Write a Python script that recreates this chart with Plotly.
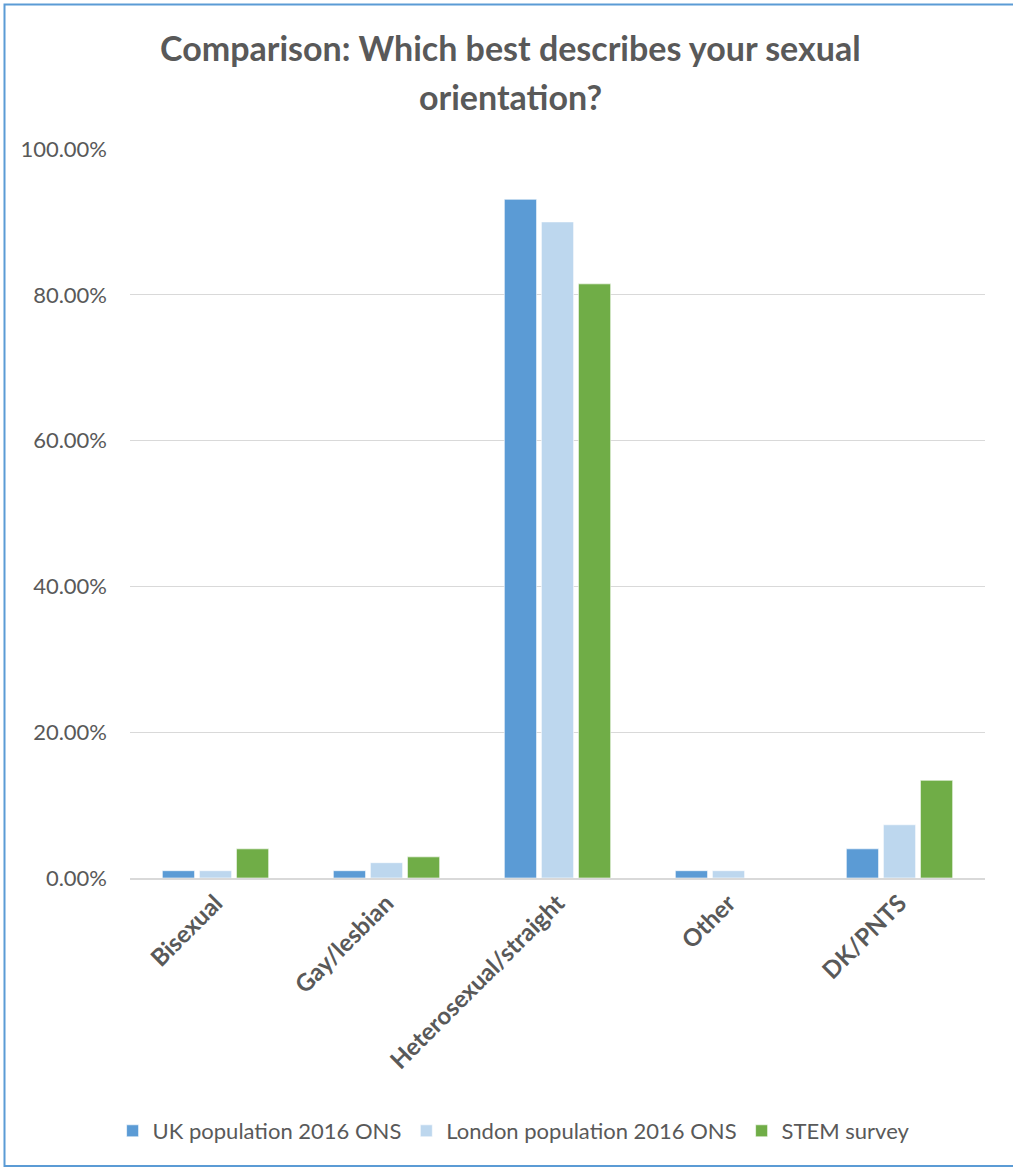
import plotly.graph_objects as go

categories = ["Bisexual", "Gay/lesbian", "Heterosexual/straight", "Other", "DK/PNTS"]
uk_2016 = [0.010, 0.010, 0.931, 0.010, 0.040]
london_2016 = [0.010, 0.021, 0.900, 0.010, 0.073]
stem_survey = [0.040, 0.029, 0.815, 0.000, 0.134]

series_names = ["UK population 2016 ONS", "London population 2016 ONS", "STEM survey"]
series_colors = ["#5B9BD5", "#BDD7EE", "#70AD47"]
title_lines = ["Comparison: Which best describes your sexual", "orientation?"]

FONT = "Lato"
GREY = "#595959"

# plot area in pixels (for placing decorations in paper coordinates)
PL, PR, PT, PB = 130, 985, 149, 878
def px_x(px):
    return (px - PL) / (PR - PL)
def px_y(py):
    return (PB - py) / (PB - PT)

fig = go.Figure()
for name, vals, col in zip(series_names, [uk_2016, london_2016, stem_survey], series_colors):
    fig.add_trace(go.Bar(
        x=categories, y=vals, name=name,
        marker=dict(color=col, line=dict(color="rgba(255,255,255,0.6)", width=1)),
    ))

annotations = []
for i, (line, ypx) in enumerate(zip(title_lines, [48, 96])):
    annotations.append(dict(
        text=f"<b>{line}</b>", xref="paper", yref="paper",
        x=px_x(510), y=px_y(ypx), xanchor="center", yanchor="middle",
        showarrow=False, font=dict(family=FONT, size=34, color=GREY),
    ))

fig.update_layout(
    width=1013, height=1168,
    margin=dict(l=PL, r=1013 - PR, t=PT, b=1168 - PB),
    paper_bgcolor="white", plot_bgcolor="white",
    barmode="group", bargap=0.35, bargroupgap=0.13,
    font=dict(family=FONT, color=GREY, size=17),
    annotations=annotations,
    showlegend=True,
    legend=dict(
        orientation="h", xref="container", x=0.507, xanchor="center",
        yref="container", y=(1168 - 1131) / 1168, yanchor="middle",
        font=dict(family=FONT, size=22, color=GREY),
        itemwidth=30, traceorder="normal",
    ),
    xaxis=dict(
        tickangle=-45, tickfont=dict(family=FONT, size=24, color=GREY, weight="bold"),
        showline=True, linecolor="#D9D9D9", linewidth=1.5, ticks="",
        showgrid=False,
    ),
    yaxis=dict(
        range=[0, 1.0], tickvals=[0, 0.2, 0.4, 0.6, 0.8, 1.0], tickformat=".2%",
        showgrid=True, gridcolor="#D9D9D9", gridwidth=1, zeroline=False,
        tickfont=dict(family=FONT, size=22, color=GREY), ticklabelstandoff=22,
        ticks="",
    ),
    shapes=[dict(
        type="rect", xref="paper", yref="paper",
        x0=px_x(4.5), x1=px_x(1030),
        y0=px_y(1166), y1=px_y(4.5),
        line=dict(color="#5B9BD5", width=2), fillcolor="rgba(0,0,0,0)", layer="below",
    )],
)

fig.write_html("out.html")
